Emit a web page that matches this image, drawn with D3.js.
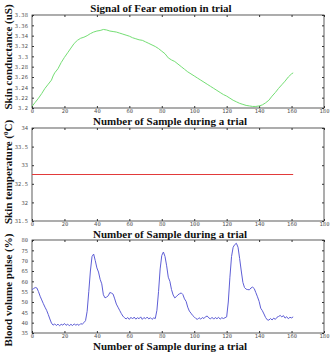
<!DOCTYPE html>
<html>
<head>
<meta charset="utf-8">
<script src="https://cdn.jsdelivr.net/npm/d3@7"></script>
<style>
  body { margin: 0; background: #fff; }
  .tk text { font-family: "DejaVu Sans Mono", monospace; font-size: 5.5px; fill: #555; }
  .tk line { stroke: #333; }
  .tk path { display: none; }
  .lbl { font-family: "Liberation Serif", "Times New Roman", serif; font-weight: bold; font-size: 11px; fill: #111; }
</style>
</head>
<body>
<div id="chart"></div>
<script>
// x axis
var xTicks = [0, 20, 40, 60, 80, 100, 120, 140, 160, 180]

// skin conductance, sampled every 2 samples (last one at 161)
var scSamples = [0, 2, 4, 6, 8, 10, 12, 13, 14, 16, 18, 20, 22, 24, 26, 28, 30, 32, 34, 36, 38,
  40, 42, 44, 46, 48, 50, 52, 54, 56, 58, 60, 62, 64, 66, 68, 70, 72, 74, 76, 78,
  80, 82, 84, 86, 88, 90, 92, 94, 96, 98, 100, 102, 104, 106, 108, 110, 112, 114, 116, 118,
  120, 122, 124, 126, 128, 130, 132, 134, 136, 138, 140, 142, 144, 146, 148, 150, 152, 154, 156, 158, 160, 161]
var scValues = [3.203, 3.211, 3.219, 3.228, 3.238, 3.246, 3.254, 3.262, 3.268, 3.276, 3.288,
  3.298, 3.307, 3.316, 3.325, 3.331, 3.335, 3.337, 3.340, 3.344, 3.347,
  3.349, 3.350, 3.352, 3.351, 3.349, 3.348, 3.347, 3.345, 3.343, 3.341,
  3.339, 3.336, 3.334, 3.332, 3.331, 3.328, 3.325, 3.322, 3.319, 3.315,
  3.310, 3.305, 3.297, 3.293, 3.290, 3.285, 3.280, 3.275, 3.270, 3.266,
  3.262, 3.258, 3.254, 3.250, 3.246, 3.242, 3.238, 3.234, 3.230, 3.226,
  3.223, 3.219, 3.215, 3.212, 3.209, 3.207, 3.205, 3.204, 3.203, 3.203,
  3.204, 3.206, 3.210, 3.215, 3.223, 3.230, 3.238, 3.245, 3.252, 3.260, 3.266, 3.268]
var scTicks = [3.2, 3.22, 3.24, 3.26, 3.28, 3.3, 3.32, 3.34, 3.36, 3.38]

// skin temperature (flat)
var stSamples = [0, 161]
var stValues = [32.75, 32.75]
var stTicks = [31.5, 32, 32.5, 33, 33.5, 34]

// blood volume pulse, samples 0..161
var bvpValues = [56.0, 56.5, 57.0, 56.8, 55.0, 52.8, 51.0, 49.2, 47.5, 46.0,
  44.0, 41.8, 39.8, 38.8, 39.4, 38.6, 39.3, 38.5, 39.2, 38.8,
  39.6, 38.7, 39.3, 38.5, 39.2, 38.6, 39.4, 38.8, 39.2, 38.7,
  39.5, 39.3, 40.0, 41.0, 45.5, 55.0, 65.0, 72.0, 73.2, 70.0,
  66.5, 64.5, 61.0, 58.8, 53.5, 52.0, 52.4, 53.0, 54.6, 54.3,
  53.8, 51.5, 49.0, 47.5, 46.0, 44.5, 43.2, 42.4, 41.8, 42.5,
  41.6, 42.6, 41.8, 42.7, 41.7, 42.4, 41.9, 42.8, 41.6, 42.5,
  41.9, 42.7, 41.8, 42.4, 41.6, 42.3, 42.0, 46.0, 55.0, 66.0,
  72.5, 74.2, 72.0, 67.5, 62.0, 60.0, 56.0, 53.4, 52.0, 52.6,
  53.5, 54.0, 54.4, 53.6, 51.5, 50.3, 47.5, 45.6, 44.6, 43.5,
  42.8, 42.0, 41.6, 42.4, 41.7, 42.5, 42.0, 42.9, 43.2, 42.3,
  41.8, 42.6, 41.7, 42.5, 41.9, 42.6, 41.7, 42.4, 42.0, 42.4,
  42.8, 50.0, 62.0, 72.0, 76.5, 77.8, 78.4, 76.5, 71.0, 65.0,
  59.5, 57.0, 56.2, 56.0, 55.9, 56.8, 57.2, 56.5, 54.5, 52.5,
  50.3, 47.0, 45.8, 44.2, 42.5, 41.4, 41.2, 42.0, 41.3, 42.2,
  41.6, 42.6, 43.0, 43.5, 42.8, 43.4, 42.2, 42.9, 41.9, 42.6,
  42.3, 42.8]
var bvpSamples = bvpValues.map(function (d, i) { return i })
var bvpTicks = [35, 40, 45, 50, 55, 60, 65, 70, 75, 80]

var W = 334, H = 352
var left = 32, right = 324, panelH = 93

var svg = d3.select("#chart").append("svg")
  .attr("width", W)
  .attr("height", H)

var x = d3.scaleLinear().domain([0, 180]).range([left, right])

function drawPanel(top, yTicks, xs, ys, color, yLabelCenter, labelFn) {
  var y = d3.scaleLinear()
    .domain([yTicks[0], yTicks[yTicks.length - 1]])
    .range([top + panelH, top])

  svg.append("rect")
    .attr("x", left).attr("y", top)
    .attr("width", right - left).attr("height", panelH)
    .attr("fill", "none").attr("stroke", "#333").attr("stroke-width", 0.8)

  svg.append("g").attr("class", "tk")
    .attr("transform", "translate(0," + (top + panelH) + ")")
    .call(d3.axisBottom(x).tickValues(xTicks).tickSizeInner(-2).tickSizeOuter(0).tickPadding(1.5))
  svg.append("g").attr("class", "tk")
    .attr("transform", "translate(0," + top + ")")
    .call(d3.axisTop(x).tickValues(xTicks).tickSizeInner(-2).tickSizeOuter(0).tickFormat(""))
  svg.append("g").attr("class", "tk")
    .attr("transform", "translate(" + left + ",0)")
    .call(d3.axisLeft(y).tickValues(yTicks).tickSizeInner(-2).tickSizeOuter(0).tickPadding(4)
      .tickFormat(function (d) { return String(d) }))
  svg.append("g").attr("class", "tk")
    .attr("transform", "translate(" + right + ",0)")
    .call(d3.axisRight(y).tickValues(yTicks).tickSizeInner(-2).tickSizeOuter(0).tickFormat(""))

  var pts = xs.map(function (d, i) { return [d, ys[i]] })
  svg.append("path")
    .datum(pts)
    .attr("fill", "none")
    .attr("stroke", color)
    .attr("stroke-width", 1)
    .attr("d", d3.line().x(function (d) { return x(d[0]) }).y(function (d) { return y(d[1]) }))

  // x label
  svg.append("text").attr("class", "lbl")
    .attr("x", 170).attr("y", top + panelH + 16.5)
    .attr("text-anchor", "middle")
    .text("Number of Sample during a trial")

  // y label
  var t = svg.append("text").attr("class", "lbl")
    .attr("text-anchor", "middle")
    .attr("transform", "translate(12," + yLabelCenter + ") rotate(-90)")
  labelFn(t)
}

svg.append("text").attr("class", "lbl")
  .attr("x", 161).attr("y", 12)
  .attr("text-anchor", "middle")
  .text("Signal of Fear emotion in trial")

drawPanel(15, scTicks, scSamples, scValues, "#74de74", 57, function (t) {
  t.text("Skin conductance (uS)")
})
drawPanel(128, stTicks, stSamples, stValues, "#e23a3a", 172, function (t) {
  t.append("tspan").text("Skin temperature (")
  t.append("tspan").attr("font-size", "7px").attr("dy", -4).text("0")
  t.append("tspan").attr("dy", 4).text("C)")
})
drawPanel(240, bvpTicks, bvpSamples, bvpValues, "#5e5ed6", 290, function (t) {
  t.text("Blood volume pulse (%)")
})
</script>
</body>
</html>
